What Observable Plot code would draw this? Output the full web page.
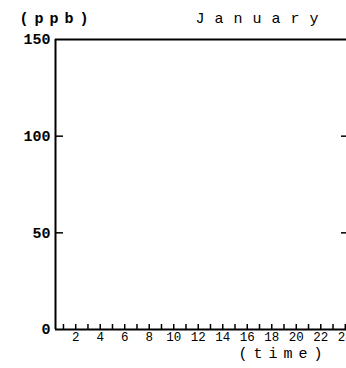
<!DOCTYPE html>
<html><head><meta charset="utf-8">
<script src="https://cdn.jsdelivr.net/npm/d3@7"></script>
<script src="https://cdn.jsdelivr.net/npm/@observablehq/plot@0.6"></script>
<style>
body{margin:0;background:#fff;}
#chart svg{overflow:visible;}
</style></head><body><div id="chart"></div>
<script>
const title = "January";
const yUnit = "(ppb)";
const xUnit = "(time)";
const xDomain = [0.35, 24.1];
const yDomain = [0, 150];
const yTickLabels = [0, 50, 100, 150];
const yInnerTicks = [50, 100];
const hourTicks = [1,2,3,4,5,6,7,8,9,10,11,12,13,14,15,16,17,18,19,20,21,22,23,24];
const hourLabels = [2,4,6,8,10,12,14,16,18,20,22,24];

const font = "'Liberation Mono', monospace";
const chart = Plot.plot({
  width: 346, height: 368,
  marginLeft: 55, marginRight: 0, marginTop: 39, marginBottom: 39,
  style: {fontFamily: font, fontSize: "15px", fontWeight: "bold", color: "#000", background: "#fff"},
  x: {domain: xDomain, axis: null},
  y: {domain: yDomain, axis: null},
  marks: [
    Plot.ruleY([yDomain[1]], {stroke: "#000", strokeWidth: 2}),
    Plot.ruleY([yDomain[0]], {stroke: "#000", strokeWidth: 2}),
    Plot.ruleX([xDomain[0]], {stroke: "#000", strokeWidth: 2}),
    Plot.axisY({ticks: yTickLabels, tickSize: 0, tickPadding: 5, fontSize: 15, fontWeight: "bold", tickFormat: d => String(d)}),
    Plot.axisY({ticks: yInnerTicks, tickSize: -8, text: null, strokeWidth: 1.5}),
    Plot.axisY({anchor: "right", ticks: yInnerTicks, tickSize: -6, text: null, strokeWidth: 1.5}),
    Plot.axisX({ticks: hourTicks, tickSize: -5, text: null, strokeWidth: 1.5}),
    Plot.axisX({ticks: hourLabels, tickSize: 0, tickPadding: 3, fontSize: 12.5, fontWeight: "normal", tickFormat: d => String(d)}),
    Plot.text([title], {text: d => d, frameAnchor: "top-right", textAnchor: "end", dx: -18, dy: -27, fontSize: 15, fontWeight: "normal"}),
    Plot.text([yUnit], {text: d => d, frameAnchor: "top-left", textAnchor: "start", dx: -36, dy: -27, fontSize: 15}),
    Plot.text([xUnit], {text: d => d, frameAnchor: "bottom-right", textAnchor: "end", dx: -18, dy: 28, fontSize: 15, fontWeight: "normal"})
  ]
});
d3.select(chart).selectAll("text").filter(function(){ return [title, yUnit, xUnit].includes(this.textContent); })
  .style("letter-spacing", function(){ return this.textContent === title ? "10px" : "6px"; });
document.getElementById("chart").appendChild(chart);
</script></body></html>
